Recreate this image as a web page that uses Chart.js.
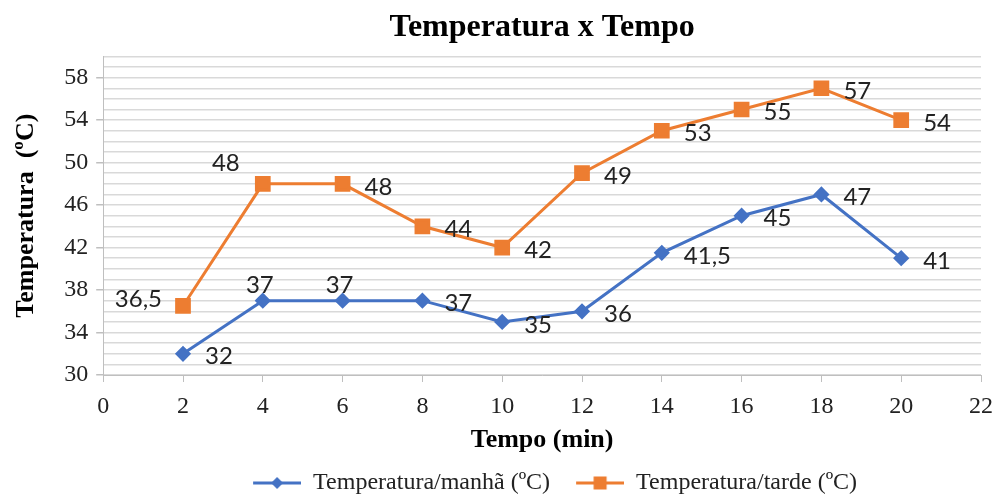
<!DOCTYPE html>
<html>
<head>
<meta charset="utf-8">
<script src="https://cdn.jsdelivr.net/npm/chart.js@4/dist/chart.umd.min.js"></script>
<style>
  html, body { margin: 0; padding: 0; background: #fff; }
  #wrap { width: 996px; height: 495px; }
</style>
</head>
<body>
<div id="wrap"><canvas id="tempChart"></canvas></div>
<script>
// minutes
var tempo = [2, 4, 6, 8, 10, 12, 14, 16, 18, 20];
var manha = [32, 37, 37, 37, 35, 36, 41.5, 45, 47, 41];
var tarde = [36.5, 48, 48, 44, 42, 49, 53, 55, 57, 54];
var seriesNames = ['Temperatura/manhã (ºC)', 'Temperatura/tarde (ºC)'];

// where each value label sits relative to its point
var manhaLabelPos = ['right', 'above', 'above', 'right', 'right', 'right', 'right', 'right', 'right', 'right'];
var tardeLabelPos = ['left', 'aboveLeft', 'right', 'right', 'right', 'right', 'right', 'right', 'right', 'right'];

var blue = '#4472C4';
var orange = '#ED7D31';
var serif = "'Liberation Serif', 'Times New Roman', serif";

function toPoints(xs, ys) {
    return xs.map(function (x, i) { return { x: x, y: ys[i] }; });
}

// legend swatch: empty margin on the left (gap between items), then line + marker
var ICON_GAP = 26;
function legendIcon(color, style) {
    var c = document.createElement('canvas');
    c.width = ICON_GAP + 48;
    c.height = 16;
    var g = c.getContext('2d');
    var m = ICON_GAP;
    g.strokeStyle = color;
    g.lineWidth = 3;
    g.beginPath();
    g.moveTo(m, 8);
    g.lineTo(m + 48, 8);
    g.stroke();
    g.fillStyle = color;
    if (style === 'diamond') {
        g.beginPath();
        g.moveTo(m + 24, 2);
        g.lineTo(m + 30, 8);
        g.lineTo(m + 24, 14);
        g.lineTo(m + 18, 8);
        g.closePath();
        g.fill();
    } else {
        g.fillRect(m + 17.5, 1.5, 13, 13);
    }
    return c;
}

var valueLabels = {
    id: 'valueLabels',
    afterDatasetsDraw: function (chart) {
        var ctx = chart.ctx;
        ctx.save();
        ctx.font = "24px Lato, 'Open Sans', sans-serif";
        ctx.fillStyle = '#222';
        ctx.textBaseline = 'middle';
        chart.data.datasets.forEach(function (ds, di) {
            var meta = chart.getDatasetMeta(di);
            meta.data.forEach(function (pt, i) {
                var v = ds.data[i].y;
                var txt = String(v).replace('.', ',');
                var pos = ds.labelPos[i];
                var x = pt.x, y = pt.y;
                if (pos === 'right') {
                    ctx.textAlign = 'left';
                    ctx.fillText(txt, x + 22, y + 3);
                } else if (pos === 'above') {
                    ctx.textAlign = 'center';
                    ctx.fillText(txt, x - 3, y - 15);
                } else if (pos === 'aboveLeft') {
                    ctx.textAlign = 'center';
                    ctx.fillText(txt, x - 37, y - 21);
                } else {
                    ctx.textAlign = 'right';
                    ctx.fillText(txt, x - 21, y - 7);
                }
            });
        });
        ctx.restore();
    }
};

var data = {
    datasets: [{
        label: seriesNames[0],
        data: toPoints(tempo, manha),
        labelPos: manhaLabelPos,
        borderColor: blue,
        backgroundColor: blue,
        borderWidth: 3,
        pointStyle: 'rectRot',
        pointRadius: 6,
        pointHoverRadius: 6,
        legendIcon: legendIcon(blue, 'diamond')
    }, {
        label: seriesNames[1],
        data: toPoints(tempo, tarde),
        labelPos: tardeLabelPos,
        borderColor: orange,
        backgroundColor: orange,
        borderWidth: 3,
        pointStyle: 'rect',
        pointRadius: 9,
        pointHoverRadius: 9,
        legendIcon: legendIcon(orange, 'square')
    }]
};

var options = {
    responsive: true,
    maintainAspectRatio: false,
    animation: false,
    layout: { padding: { left: 11, right: 15, top: 0, bottom: 0 } },
    scales: {
        x: {
            type: 'linear',
            min: 0,
            max: 22,
            // the "22" label may run into the right margin
            afterFit: function (scale) {
                scale.paddingRight = 0;
            },
            ticks: {
                stepSize: 2,
                maxRotation: 0,
                minRotation: 0,
                color: '#222',
                font: { family: serif, size: 24, lineHeight: 1 },
                padding: 13
            },
            grid: { drawOnChartArea: false, tickLength: 7, color: '#bfbfbf', tickColor: '#bfbfbf' },
            border: { color: '#bfbfbf' },
            title: {
                display: true,
                text: 'Tempo (min)',
                color: '#000',
                font: { family: serif, size: 26, weight: 'bold', lineHeight: 1 },
                padding: { top: -5, bottom: 18 }
            }
        },
        y: {
            min: 30,
            max: 60,
            ticks: {
                stepSize: 1,
                autoSkip: false,
                color: '#222',
                font: { family: serif, size: 24 },
                padding: 8,
                callback: function (v) {
                    return ((v - 30) % 4 === 0 && v < 60) ? v : '';
                }
            },
            grid: {
                color: '#d9d9d9',
                lineWidth: 1.5,
                tickLength: 7,
                tickColor: function (c) {
                    var v = c.tick ? c.tick.value : 0;
                    return ((v - 30) % 4 === 0 && v < 60) ? '#bfbfbf' : 'rgba(0,0,0,0)';
                }
            },
            border: { color: '#bfbfbf' },
            title: {
                display: true,
                text: 'Temperatura  (ºC)',
                color: '#000',
                font: { family: serif, size: 26, weight: 'bold' },
                padding: { top: 0, bottom: 14 }
            }
        }
    },
    plugins: {
        title: {
            display: true,
            fullSize: false,
            text: 'Temperatura x Tempo',
            color: '#000',
            font: { family: serif, size: 32, weight: 'bold' },
            padding: { top: 9, bottom: 9 }
        },
        legend: {
            position: 'bottom',
            fullSize: false,
            maxHeight: 24,
            labels: {
                color: '#222',
                font: { family: serif, size: 24 },
                usePointStyle: true,
                pointStyleWidth: ICON_GAP + 48,
                boxHeight: 16,
                padding: 0,
                generateLabels: function (chart) {
                    return chart.data.datasets.map(function (ds, i) {
                        return {
                            text: ds.label,
                            pointStyle: ds.legendIcon,
                            fillStyle: ds.backgroundColor,
                            strokeStyle: ds.borderColor,
                            lineWidth: 0,
                            fontColor: '#222',
                            hidden: false,
                            datasetIndex: i
                        };
                    });
                }
            }
        },
        tooltip: { enabled: false }
    }
};

var ctx = document.getElementById('tempChart').getContext('2d');
var tempChart = new Chart(ctx, {
    type: 'line',
    data: data,
    options: options,
    plugins: [valueLabels]
});
</script>
</body>
</html>
